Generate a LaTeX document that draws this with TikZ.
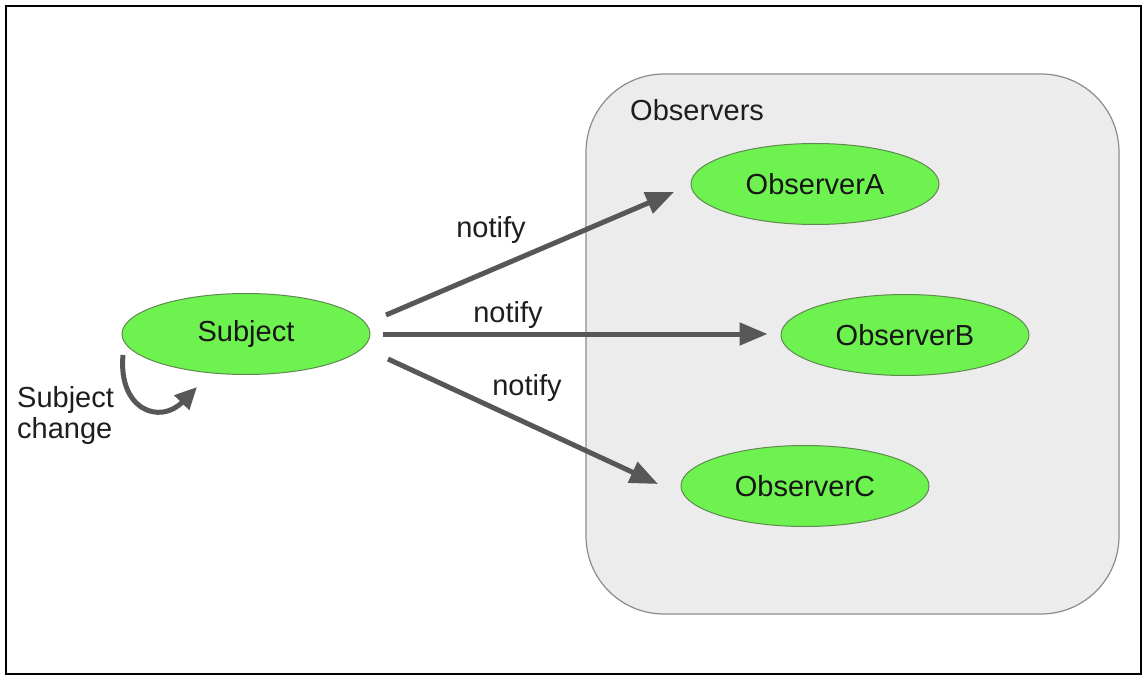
\documentclass[tikz,border=0pt]{standalone}
\usepackage{fontspec}
\setmainfont{Liberation Sans}
\usetikzlibrary{shapes.geometric,arrows.meta}
\definecolor{nodegreen}{HTML}{6EF24F}
\definecolor{nodeedge}{HTML}{5E8A50}
\definecolor{arrowgray}{HTML}{575757}
\definecolor{boxfill}{HTML}{ECECEC}
\definecolor{boxedge}{HTML}{8C8C8C}
\definecolor{txt}{HTML}{1E1E1E}
\tikzset{
  obsnode/.style={ellipse, draw=nodeedge, fill=nodegreen, line width=1pt,
    minimum width=248pt, minimum height=81pt, inner sep=0pt,
    font=\fontsize{29}{34}\selectfont, text=txt!75!black},
  lbl/.style={font=\fontsize{29}{34}\selectfont, text=txt, inner sep=0pt},
  notifyarrow/.style={draw=arrowgray, line width=5pt,
    -{Triangle[length=28pt,width=22pt]}},
}
\begin{document}
\begin{tikzpicture}[x=1pt,y=-1pt]
\useasboundingbox (0,0) rectangle (1143,676);
\fill[white] (0,0) rectangle (1143,676);
\draw[line width=2.8pt, black] (6,6) rectangle (1141,674);
% Observers group
\draw[fill=boxfill, draw=boxedge, line width=1.2pt, rounded corners=78pt]
  (586,74) rectangle (1119,614);
\node[lbl, anchor=base west] (grp) at (630,121) {Observers};
% nodes
\node[obsnode] (subj) at (246,334) {Subject};
\node[obsnode] (obsA) at (815,184) {ObserverA};
\node[obsnode] (obsB) at (905,335) {ObserverB};
\node[obsnode] (obsC) at (805,486) {ObserverC};
% arrow end coordinates
\coordinate (s1) at (386,315);
\coordinate (t1) at (674,192);
\coordinate (s3) at (388,359);
\coordinate (t3) at (658,484);
\draw[notifyarrow] (s1) -- (t1);
\draw[notifyarrow, shorten <=12pt, shorten >=13pt] (subj.east) -- (subj.east -| obsB.west);
\draw[notifyarrow] (s3) -- (t3);
% labels
\node[lbl] (n1) at (491,230) {notify};
\node[lbl] (n2) at (508,315) {notify};
\node[lbl] (n3) at (527,388) {notify};
% self change
\coordinate (c1) at (123,355);
\coordinate (c2) at (197,387);
\draw[notifyarrow, -{Triangle[length=22pt,width=20pt]}] (c1) .. controls (118,410) and (160,425) .. (c2);
\node[lbl, anchor=base west] (chg) at (17,407) {Subject};
\node[lbl, anchor=base west] (chg2) at (17,438) {change};
\end{tikzpicture}
\end{document}
